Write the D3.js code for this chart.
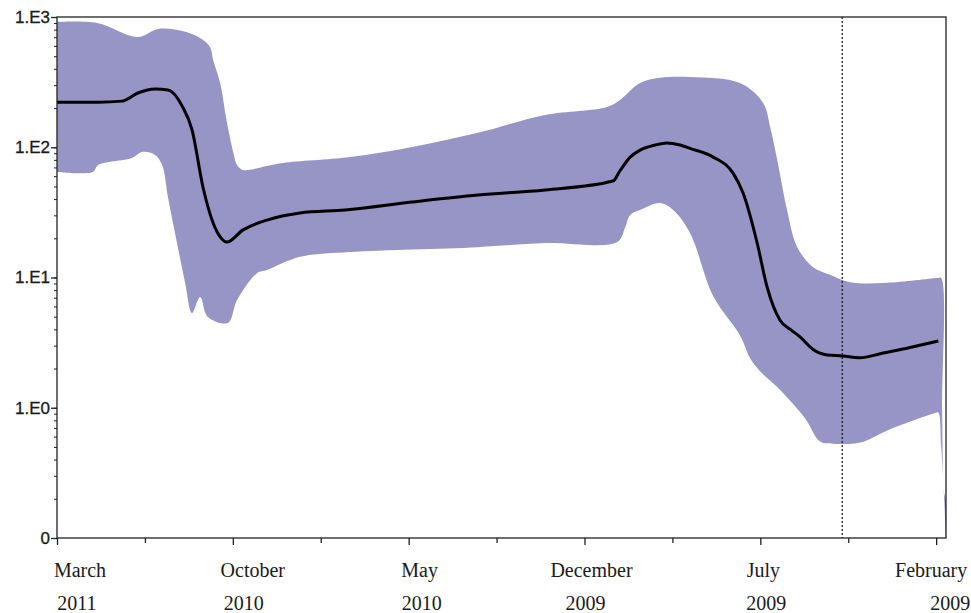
<!DOCTYPE html>
<meta charset="utf-8">
<script src="https://d3js.org/d3.v7.min.js"></script>
<style>
  body { margin: 0; background: #fff; }
</style>
<body>
<div id="chart"></div>
<script>
// time is in months before March 2011 (left edge = most recent)
var tickMonths = [0, 5, 10, 15, 20, 25]
var monthLabels = ["March", "October", "May", "December", "July", "February"]
var yearLabels = ["2011", "2010", "2010", "2009", "2009", "2009"]
var yTickValues = [0.1, 1, 10, 100, 1000]
var yTickLabels = ["0", "1.E0", "1.E1", "1.E2", "1.E3"]
var markerMonth = 22.33

var medianMonths = [0, 1.17, 1.85, 2.30, 2.79, 3.16, 3.56, 3.84, 4.15, 4.44,
  4.64, 4.83, 5.29, 5.97, 6.91, 8.19, 10.10, 11.97, 13.88, 15.81,
  16.01, 16.30, 16.58, 17.01, 17.34, 17.72, 18.00, 18.66, 19.23, 19.51,
  19.91, 20.19, 20.56, 20.85, 21.13, 21.50, 21.90, 22.33, 22.84, 23.41,
  24.26, 25.06]
var medianValues = [222, 222, 226, 261, 280, 275, 207, 136, 49.5, 26.2,
  20.5, 18.7, 23.2, 27.6, 31.3, 33, 38, 43, 47, 55,
  66, 84, 95, 104, 108, 104, 98, 84, 63, 44.5,
  18.4, 8.5, 4.7, 4.0, 3.5, 2.8, 2.54, 2.5, 2.42, 2.6,
  2.9, 3.25]

var upperMonths = [0, 1.14, 2.30, 2.87, 3.56, 4.07, 4.35, 4.44, 4.64, 4.83,
  5.01, 5.12, 5.29, 5.97, 6.43, 8.33, 10.10, 11.97, 13.88, 15.64,
  16.01, 16.58, 17.15, 18.00, 19.42, 20.08, 20.28, 20.48, 20.76, 21.05,
  21.50, 21.98, 22.55, 23.61, 25.03, 25.14, 25.17, 25.23, 25.28]
var upperValues = [916, 900, 702, 809, 781, 690, 589, 468, 311, 156,
  92, 73, 66.8, 71.8, 75.7, 84, 100.5, 129, 177, 204,
  231, 311, 341, 346, 311, 219, 143, 80, 33, 17.1,
  12.0, 10.5, 9.2, 9.1, 9.9, 9.9, 0.91, 0.22, 0.196]

var lowerMonths = [0, 1.02, 1.17, 2.13, 2.42, 2.79, 2.99, 3.16, 3.44, 3.64,
  3.84, 4.07, 4.29, 4.86, 5.12, 5.69, 5.97, 6.91, 8.33, 11.97,
  13.88, 15.93, 16.15, 16.30, 16.58, 17.15, 17.52, 18.00, 18.66, 19.42,
  19.71, 20.00, 20.48, 21.27, 21.70, 22.07, 22.84, 23.61, 24.97, 25.06,
  25.14, 25.23, 25.28]
var lowerValues = [64.6, 64.6, 73, 82.6, 92, 87.3, 73, 40.7, 16.9, 9.2,
  5.33, 7.08, 4.98, 4.48, 6.71, 10.8, 11.4, 14.4, 15.7, 17.1,
  18.4, 18.7, 24, 30.2, 33, 37.3, 33, 22, 7.2, 3.6,
  2.4, 1.9, 1.44, 0.83, 0.55, 0.53, 0.54, 0.67, 0.91, 0.92,
  0.52, 0.196, 0.1]

var width = 971,
    height = 613
var plotLeft = 57, plotRight = 946, plotTop = 17, plotBottom = 538

var svg = d3.select("#chart").append("svg")
    .attr("width", width)
    .attr("height", height)

var x = d3.scaleLinear().domain([0, 25.28]).range([plotLeft, plotRight])
var y = d3.scaleLog().domain([0.1, 1000]).range([plotBottom, plotTop]).clamp(true)

svg.append("clipPath").attr("id", "plotclip")
  .append("rect")
    .attr("x", plotLeft).attr("y", plotTop)
    .attr("width", plotRight - plotLeft).attr("height", plotBottom - plotTop)

// uncertainty band: upper edge then lower edge backwards
var band = upperMonths.map(function(m, i) { return [m, upperValues[i]] })
  .concat(lowerMonths.map(function(m, i) { return [m, lowerValues[i]] }).reverse())

svg.append("path")
    .attr("clip-path", "url(#plotclip)")
    .attr("d", d3.line()
      .x(function(d) { return x(d[0]) })
      .y(function(d) { return y(d[1]) })
      .curve(d3.curveCatmullRom.alpha(0.5))(band) + "Z")
    .attr("fill", "#9794c6")
    .attr("stroke", "none")

var median = medianMonths.map(function(m, i) { return [m, medianValues[i]] })
svg.append("path")
    .attr("d", d3.line()
      .x(function(d) { return x(d[0]) })
      .y(function(d) { return y(d[1]) })
      .curve(d3.curveMonotoneX)(median))
    .attr("fill", "none")
    .attr("stroke", "#000")
    .attr("stroke-width", 3)
    .attr("stroke-linejoin", "round")

// dotted marker line
svg.append("line")
    .attr("x1", x(markerMonth)).attr("x2", x(markerMonth))
    .attr("y1", plotTop).attr("y2", plotBottom)
    .attr("stroke", "#111")
    .attr("stroke-width", 1.2)
    .attr("stroke-dasharray", "2,2")

// frame
svg.append("rect")
    .attr("x", plotLeft).attr("y", plotTop)
    .attr("width", plotRight - plotLeft).attr("height", plotBottom - plotTop)
    .attr("fill", "none")
    .attr("stroke", "#222")
    .attr("stroke-width", 1.3)

// y axis (log, with minor ticks)
var yAxis = d3.axisLeft(y)
    .tickValues(y.ticks())
    .tickSize(3)
    .tickFormat("")
svg.append("g")
    .attr("transform", "translate(" + plotLeft + ",0)")
    .call(yAxis)
    .call(function(g) { g.select(".domain").remove() })
    .selectAll("line").attr("stroke", "#222")

var yMajor = d3.axisLeft(y)
    .tickValues(yTickValues)
    .tickSize(6)
    .tickPadding(1)
    .tickFormat(function(d, i) { return yTickLabels[i] })
var gy = svg.append("g")
    .attr("transform", "translate(" + plotLeft + ",0)")
    .call(yMajor)
gy.select(".domain").remove()
gy.selectAll("line").attr("stroke", "#222").attr("stroke-width", 1.3)
gy.selectAll("text")
    .attr("font-family", "Liberation Sans, Arial, sans-serif")
    .attr("font-size", 17)
    .attr("fill", "#1a1a1a")
    .attr("stroke", "#1a1a1a")
    .attr("stroke-width", 0.3)

// x axis
var minorMonths = tickMonths.slice(1).map(function(m) { return m - 2.5 })
svg.append("g")
    .attr("transform", "translate(0," + plotBottom + ")")
    .call(d3.axisBottom(x).tickValues(minorMonths).tickSize(5).tickFormat(""))
    .call(function(g) { g.select(".domain").remove() })
    .selectAll("line").attr("stroke", "#222").attr("stroke-width", 1.3)

var gx = svg.append("g")
    .attr("transform", "translate(0," + plotBottom + ")")
    .call(d3.axisBottom(x).tickValues(tickMonths).tickSize(7).tickFormat(""))
gx.select(".domain").remove()
gx.selectAll("line").attr("stroke", "#222").attr("stroke-width", 1.3)

var monthShift = [23, 20, 11, 7, 3, -5]
var yearShift = [20, 11, 13, 1, 6, 14]
var labels = svg.append("g")
    .attr("font-family", "Liberation Serif, Times New Roman, serif")
    .attr("font-size", 20)
    .attr("fill", "#1a1a1a")
    .attr("text-anchor", "middle")

labels.selectAll(".month")
    .data(tickMonths)
    .enter().append("text")
    .attr("class", "month")
    .attr("x", function(d, i) { return x(d) + monthShift[i] })
    .attr("y", 577)
    .text(function(d, i) { return monthLabels[i] })

labels.selectAll(".year")
    .data(tickMonths)
    .enter().append("text")
    .attr("class", "year")
    .attr("x", function(d, i) { return x(d) + yearShift[i] })
    .attr("y", 610)
    .text(function(d, i) { return yearLabels[i] })
</script>
</body>
